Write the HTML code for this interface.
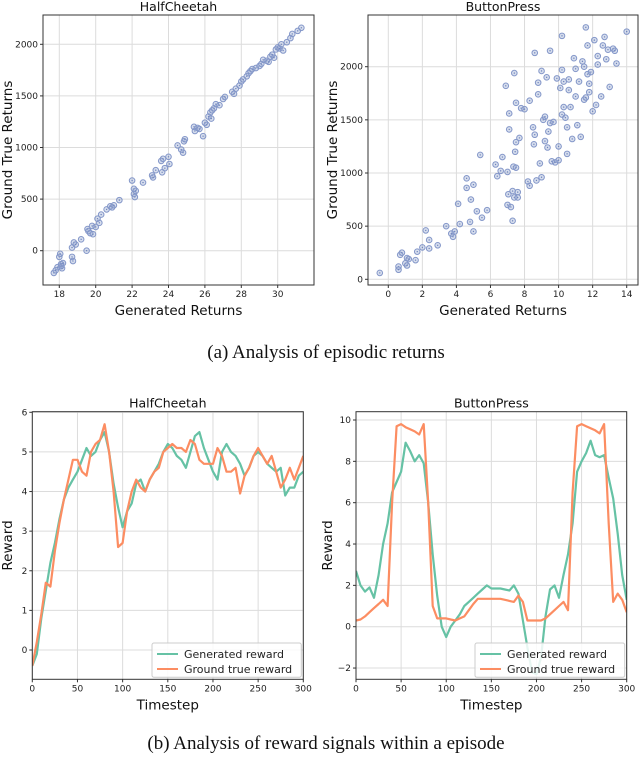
<!DOCTYPE html>
<html><head><meta charset="utf-8"><style>
body{margin:0;background:#fff;width:640px;height:760px;overflow:hidden}
svg{display:block}
.tk{font-family:"DejaVu Sans",sans-serif;font-size:9px;fill:#222}
.ttl{font-family:"DejaVu Sans",sans-serif;font-size:12.5px;fill:#111}
.lbl{font-family:"DejaVu Sans",sans-serif;font-size:13.5px;fill:#111}
.lg{font-family:"DejaVu Sans",sans-serif;font-size:11px;fill:#222}
.cap{font-family:"Liberation Serif",serif;font-size:19px;fill:#111}
</style></head><body>
<svg id="fig" width="640" height="760" viewBox="0 0 640 760">
<text class="cap" x="326" y="358" text-anchor="middle">(a)  Analysis of episodic returns</text>
<text class="cap" x="326" y="749" text-anchor="middle">(b)  Analysis of reward signals within a episode</text>
</svg>
<script>
// ---- data ----
const hcScatterX=[17.7,17.8,17.9,18.0,18.05,18.1,18.1,18.15,18.2,18.7,18.7,18.75,18.8,18.9,19.2,19.5,19.55,19.6,19.7,19.8,19.85,20.0,20.1,20.2,20.3,20.6,20.8,20.9,21.0,21.3,22.0,22.1,22.1,22.15,22.2,22.6,23.1,23.15,23.3,23.6,23.65,23.7,23.8,24.0,24.05,24.5,24.7,24.8,24.85,24.9,25.4,25.45,25.6,25.7,25.9,26.0,26.1,26.2,26.3,26.35,26.4,26.5,26.6,26.8,27.0,27.1,27.5,27.6,27.7,27.9,28.0,28.1,28.3,28.4,28.5,28.6,28.8,29.0,29.1,29.2,29.4,29.5,29.6,29.7,29.8,29.9,30.0,30.1,30.2,30.3,30.5,30.7,30.8,31.1,31.3];
const hcScatterY=[-215,-190,-160,-60,-30,-150,-130,-170,-120,30,-60,-100,80,60,110,0,210,190,170,240,160,230,310,270,350,400,430,420,440,490,680,550,600,520,580,660,730,710,780,870,760,890,800,910,840,1020,980,950,1060,1080,1200,1160,1190,1180,1110,1240,1220,1300,1340,1280,1360,1380,1420,1410,1470,1490,1540,1520,1570,1600,1640,1660,1690,1720,1740,1760,1770,1790,1810,1850,1840,1830,1880,1900,1870,1950,1970,1960,2000,1940,2020,2060,2100,2130,2160];
const bpScatterX=[-0.5,0.6,0.6,0.7,0.8,1.0,1.1,1.1,1.2,1.6,1.7,2.0,2.2,2.4,2.4,2.9,3.4,3.7,3.8,3.9,4.1,4.2,4.6,4.6,4.8,4.85,5.0,5.0,5.2,5.4,5.5,5.8,6.3,6.4,6.6,6.7,6.9,7.0,7.0,7.05,7.1,7.1,7.2,7.3,7.3,7.35,7.4,7.4,7.45,7.5,7.5,7.6,7.6,7.7,7.8,8.0,8.2,8.3,8.3,8.5,8.55,8.6,8.7,8.8,8.8,8.9,9.0,9.0,9.1,9.2,9.2,9.3,9.35,9.4,9.5,9.6,9.7,9.8,9.9,10.0,10.0,10.1,10.2,10.2,10.3,10.3,10.4,10.5,10.5,10.6,10.6,10.7,10.8,10.9,11.0,11.0,11.1,11.2,11.3,11.4,11.5,11.5,11.6,11.7,11.7,11.8,11.8,11.9,12.0,12.1,12.2,12.3,12.3,12.5,12.6,12.7,12.8,12.9,13.0,13.2,13.3,13.4,14.0,10.2,11.6,8.6,9.5,7.5];
const bpScatterY=[60,120,90,230,250,150,200,130,190,180,260,300,460,370,290,320,500,430,400,450,710,520,950,860,540,750,450,890,640,1170,580,650,1080,970,1020,1150,1820,1010,700,800,1410,1560,680,550,830,1060,1940,770,1200,1050,1290,820,770,1330,1610,1600,920,880,1680,1430,1270,1360,930,1740,1850,1090,1960,960,1500,1300,1530,1900,1240,1390,1470,1110,1480,1100,1890,1250,1120,1800,1550,1970,1620,1860,1520,1430,1180,1780,1880,1620,1320,2080,1980,1720,1450,1860,1340,2050,1690,2000,1710,2200,1930,1840,1760,1950,1580,2250,1640,2100,2020,1720,2200,2280,2070,2160,1810,2170,2150,2030,2330,2290,2370,2130,2150,1660,1020,2180];
const hcGen=[-0.4,-0.1,0.8,1.5,2.2,2.7,3.3,3.8,4.1,4.3,4.5,4.8,5.1,4.9,5.0,5.3,5.5,5.0,4.2,3.6,3.1,3.5,3.7,4.2,4.3,4.0,4.3,4.5,4.7,5.0,5.2,5.1,4.9,4.8,4.6,5.0,5.4,5.5,5.1,4.8,4.5,4.3,5.0,5.2,5.0,4.9,4.7,4.4,4.6,4.9,5.0,4.9,4.7,4.6,4.5,4.6,3.9,4.1,4.1,4.4,4.5];
const hcTrue=[-0.4,0.2,0.9,1.7,1.6,2.5,3.2,3.8,4.3,4.8,4.8,4.5,4.4,5.0,5.2,5.3,5.7,5.0,4.0,2.6,2.7,3.5,4.0,4.3,4.1,4.0,4.3,4.5,4.6,5.0,5.1,5.2,5.1,5.1,5.0,5.3,5.2,4.8,4.7,4.7,4.7,5.1,4.9,4.5,4.5,4.6,3.95,4.4,4.6,4.9,5.1,4.9,4.7,4.9,4.5,4.1,4.3,4.6,4.3,4.6,4.9];
const bpGen=[2.7,2.0,1.7,1.9,1.4,2.5,4.0,5.0,6.5,7.0,7.5,8.9,8.5,8.0,8.3,7.9,6.0,3.5,1.5,0.0,-0.5,0.0,0.3,0.6,1.0,1.2,1.4,1.6,1.8,2.0,1.85,1.85,1.85,1.8,1.75,2.0,1.6,0.3,-1.0,-2.2,-2.3,-1.5,0.5,1.8,2.0,1.4,2.5,3.5,5.0,7.5,8.0,8.4,9.0,8.3,8.2,8.3,7.2,6.2,4.5,2.5,1.3];
const bpTrue=[0.3,0.35,0.5,0.7,0.9,1.1,1.3,1.0,6.0,9.7,9.8,9.65,9.55,9.45,9.3,9.8,6.0,1.0,0.4,0.4,0.4,0.35,0.3,0.4,0.5,0.8,1.1,1.35,1.35,1.35,1.35,1.35,1.35,1.3,1.25,1.2,1.5,1.2,0.3,0.3,0.3,0.3,0.4,0.6,0.8,1.0,1.2,0.8,6.5,9.7,9.8,9.7,9.6,9.5,9.35,9.8,5.0,1.2,1.6,1.3,0.7];
const tStep=5;
const hcXTicks=[18,20,22,24,26,28,30];
const hcYTicks=[0,500,1000,1500,2000];
const bpXTicks=[0,2,4,6,8,10,12,14];
const bpYTicks=[0,500,1000,1500,2000];
const tXTicks=[0,50,100,150,200,250,300];
const hcRTicks=[0,1,2,3,4,5,6];
const bpRTicks=[-2,0,2,4,6,8,10];

const NS='http://www.w3.org/2000/svg';
const fig=document.getElementById('fig');
function mk(tag,attrs,parent){const e=document.createElementNS(NS,tag);for(const k in attrs)e.setAttribute(k,attrs[k]);(parent||fig).appendChild(e);return e;}
function lin(d0,d1,r0,r1){return v=>r0+(v-d0)*(r1-r0)/(d1-d0);}

function panel(o){
  const g=mk('g',{});
  
  
  const sx=lin(o.xd[0],o.xd[1],o.xr[0],o.xr[1]);
  const sy=lin(o.yd[0],o.yd[1],o.yr[0],o.yr[1]);
  const [L,R,T,B]=o.box;
  o.xt.forEach(v=>{
    const gl=mk('line',{x1:sx(v),x2:sx(v),y1:T,y2:B,stroke:'#dcdcdc','stroke-width':1},g);
    
    
    mk('line',{x1:sx(v),x2:sx(v),y1:B,y2:B+3,stroke:'#333'},g);
    const t=mk('text',{x:sx(v),y:B+12,'text-anchor':'middle',class:'tk'},g);
    
    
    t.textContent=v;
  });
  o.yt.forEach(v=>{
    const gl=mk('line',{x1:L,x2:R,y1:sy(v),y2:sy(v),stroke:'#dcdcdc','stroke-width':1},g);
    
    
    mk('line',{x1:L-3,x2:L,y1:sy(v),y2:sy(v),stroke:'#333'},g);
    const t=mk('text',{x:L-5,y:sy(v)+3,'text-anchor':'end',class:'tk'},g);
    
    
    t.textContent=v<0?'\u2212'+(-v):v;
  });
  const clip='c'+o.name;
  const cp=mk('clipPath',{id:clip},g);mk('rect',{x:L,y:T,width:R-L,height:B-T},cp);
  const pg=mk('g',{'clip-path':'url(#'+clip+')'},g);
  if(o.sx){
    o.sx.forEach((x,i)=>{
      const c=mk('circle',{cx:sx(x),cy:sy(o.sy[i]),r:2.8,fill:'rgba(141,160,203,0.35)',stroke:'#8497c9','stroke-width':1},pg);
      
      
      mk('circle',{cx:sx(x),cy:sy(o.sy[i]),r:0.7,fill:'#6f84bd'},pg);
    });
  }
  if(o.series){
    o.series.forEach(s=>{
      const d=s.v.map((v,i)=>(i?'L':'M')+sx(i*tStep).toFixed(1)+' '+sy(v).toFixed(1)).join('');
      const p=mk('path',{d:d,fill:'none',stroke:s.c,'stroke-width':2.2,'stroke-linejoin':'round'},pg);
      
      
    });
    const lx=o.lg[0],ly=o.lg[1];
    const lgd=mk('g',{},g);
    
    
    mk('rect',{x:lx,y:ly,width:R-lx-2,height:B-ly-2,fill:'#fff','fill-opacity':0.85,stroke:'#ccc',rx:2},lgd);
    o.series.forEach((s,i)=>{
      const yy=ly+11+i*15;
      mk('line',{x1:lx+5,x2:lx+26,y1:yy,y2:yy,stroke:s.c,'stroke-width':2},lgd);
      const t=mk('text',{x:lx+32,y:yy+4,class:'lg'},lgd);
      
      
      t.textContent=s.label;
    });
  }
  mk('rect',{x:L,y:T,width:R-L,height:B-T,fill:'none',stroke:'#333','stroke-width':1},g);
  const tt=mk('text',{x:(L+R)/2,y:T-4,'text-anchor':'middle',class:'ttl'},g);
  
  
  tt.textContent=o.title;
  const xl=mk('text',{x:(L+R)/2,y:B+30,'text-anchor':'middle',class:'lbl'},g);
  
  
  xl.textContent=o.xlab;
  const yx=o.ylx;
  const yl=mk('text',{x:yx,y:(T+B)/2,'text-anchor':'middle',class:'lbl',transform:'rotate(-90 '+yx+' '+(T+B)/2+')'},g);
  
  
  yl.textContent=o.ylab;
}
panel({name:'halfcheetah-returns',title:'HalfCheetah',xlab:'Generated Returns',ylab:'Ground True Returns',box:[43,314,15,285],xd:[18,30],xr:[59.3,277.7],yd:[0,2000],yr:[250.7,44.3],xt:hcXTicks,yt:hcYTicks,sx:hcScatterX,sy:hcScatterY,ylx:12});
panel({name:'buttonpress-returns',title:'ButtonPress',xlab:'Generated Returns',ylab:'Ground True Returns',box:[368,638,15,285],xd:[0,14],xr:[388.3,626.7],yd:[0,2000],yr:[279.3,66.7],xt:bpXTicks,yt:bpYTicks,sx:bpScatterX,sy:bpScatterY,ylx:337});
panel({name:'halfcheetah-reward',title:'HalfCheetah',xlab:'Timestep',ylab:'Reward',box:[32.3,303.3,411.7,679.3],xd:[0,300],xr:[32.3,303.3],yd:[0,6],yr:[650,412.3],xt:tXTicks,yt:hcRTicks,ylx:12,lg:[152,643],
  series:[{v:hcGen,c:'#66c2a5',n:'generated-reward-line',label:'Generated reward'},{v:hcTrue,c:'#fc8d62',n:'ground-true-reward-line',label:'Ground true reward'}]});
panel({name:'buttonpress-reward',title:'ButtonPress',xlab:'Timestep',ylab:'Reward',box:[356,626.7,411.7,679.3],xd:[0,300],xr:[356,626.7],yd:[0,10],yr:[626.7,420],xt:tXTicks,yt:bpRTicks,ylx:332,lg:[475,643],
  series:[{v:bpGen,c:'#66c2a5',n:'generated-reward-line',label:'Generated reward'},{v:bpTrue,c:'#fc8d62',n:'ground-true-reward-line',label:'Ground true reward'}]});
</script>
</body></html>
